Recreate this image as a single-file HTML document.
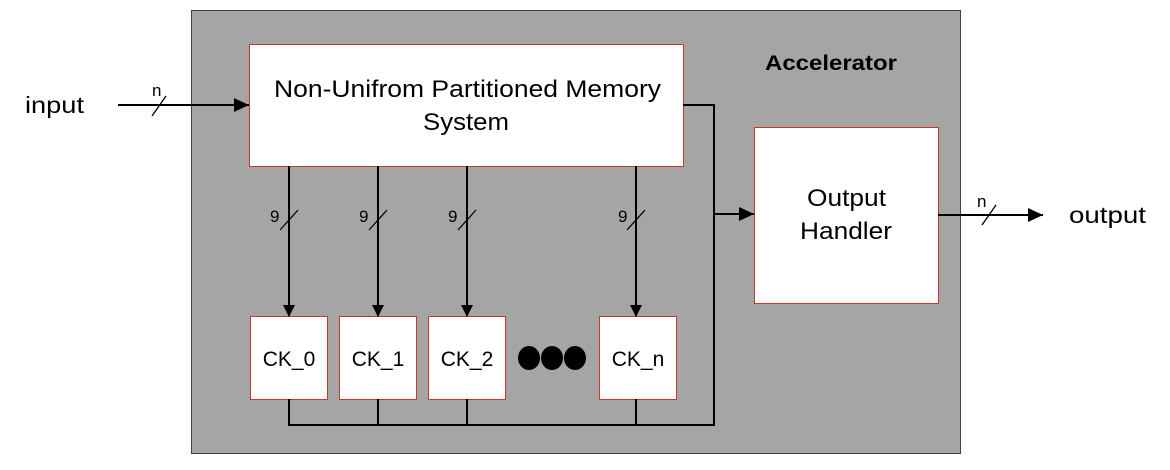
<!DOCTYPE html>
<html><head><style>
body{margin:0;width:1170px;height:465px;background:#fff;overflow:hidden}
svg text{font-family:"Liberation Sans",sans-serif}
</style></head><body>
<svg width="1170" height="465" viewBox="0 0 1170 465">
<defs><marker id="a" markerWidth="12" markerHeight="12" refX="11" refY="6" orient="auto" markerUnits="userSpaceOnUse"><path d="M0,0 L12,6 L0,12 z" fill="#000"/></marker>
<marker id="b" markerWidth="16" markerHeight="14" refX="15" refY="7" orient="auto" markerUnits="userSpaceOnUse"><path d="M0,0 L15,7 L0,14 z" fill="#000"/></marker></defs>
<rect x="191.5" y="10.5" width="769" height="443" fill="#a5a5a5" stroke="#444" stroke-width="1"/>
<text x="765" y="70" font-size="21" font-weight="bold" textLength="132" lengthAdjust="spacingAndGlyphs">Accelerator</text>
<rect x="249.5" y="44.5" width="434" height="122" fill="#fff" stroke="#c0392b" stroke-width="1"/>
<text x="274" y="97" font-size="24" textLength="387" lengthAdjust="spacingAndGlyphs">Non-Unifrom Partitioned Memory</text>
<text x="423" y="130" font-size="24" textLength="86" lengthAdjust="spacingAndGlyphs">System</text>
<rect x="754.5" y="127.5" width="184" height="176" fill="#fff" stroke="#c0392b"/>
<text x="807" y="206" font-size="24" textLength="79" lengthAdjust="spacingAndGlyphs">Output</text>
<text x="800" y="239" font-size="24" textLength="92" lengthAdjust="spacingAndGlyphs">Handler</text>
<g fill="#fff" stroke="#c0392b"><rect x="250.5" y="316.5" width="77" height="83"/><rect x="339.5" y="316.5" width="77" height="83"/><rect x="428.5" y="316.5" width="77" height="83"/><rect x="599.5" y="316.5" width="77" height="83"/></g>
<g font-size="21" text-anchor="middle"><text x="289" y="366">CK_0</text><text x="378" y="366">CK_1</text><text x="467" y="366">CK_2</text><text x="638" y="366">CK_n</text></g>
<g fill="#000"><ellipse cx="529" cy="358" rx="11" ry="12"/><ellipse cx="552" cy="358" rx="11" ry="12"/><ellipse cx="575" cy="358" rx="11" ry="12"/></g>
<g stroke="#000" stroke-width="2" fill="none">
<line x1="118" y1="105" x2="249" y2="105" marker-end="url(#b)"/>
<line x1="152" y1="116" x2="166" y2="96" stroke-width="1.3"/>
<line x1="289" y1="166" x2="289" y2="316" marker-end="url(#a)"/>
<line x1="378" y1="166" x2="378" y2="316" marker-end="url(#a)"/>
<line x1="467" y1="166" x2="467" y2="316" marker-end="url(#a)"/>
<line x1="636" y1="166" x2="636" y2="316" marker-end="url(#a)"/>
<polyline points="683,105 714,105 714,425 289,425 289,399"/>
<line x1="378" y1="425" x2="378" y2="399"/><line x1="467" y1="425" x2="467" y2="399"/><line x1="636" y1="425" x2="636" y2="399"/>
<line x1="714" y1="214" x2="754" y2="214" marker-end="url(#b)"/>
<line x1="938" y1="215" x2="1043" y2="215" marker-end="url(#b)"/>
<g stroke-width="1.3"><line x1="982" y1="225" x2="996" y2="205"/>
<line x1="280" y1="230" x2="298" y2="210"/><line x1="369" y1="230" x2="387" y2="210"/><line x1="458" y1="230" x2="476" y2="210"/><line x1="627" y1="230" x2="645" y2="210"/></g>
</g>
<g font-size="17"><text x="152" y="96">n</text><text x="270" y="222">9</text><text x="359" y="222">9</text><text x="448" y="222">9</text><text x="618" y="222">9</text><text x="977" y="207">n</text></g>
<text x="25" y="113" font-size="23" textLength="59" lengthAdjust="spacingAndGlyphs">input</text>
<text x="1069" y="223" font-size="23" textLength="77" lengthAdjust="spacingAndGlyphs">output</text>
</svg>
</body></html>
